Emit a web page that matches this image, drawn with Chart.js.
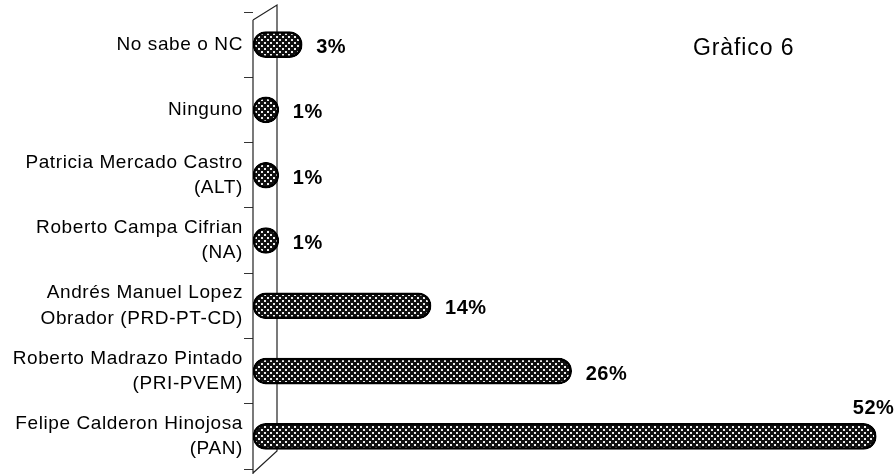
<!DOCTYPE html>
<html>
<head>
<meta charset="utf-8">
<script src="https://cdn.jsdelivr.net/npm/chart.js@4"></script>
<style>
  html, body { margin: 0; padding: 0; background: #fff; }
  #wrap { width: 894px; height: 474px; }
</style>
</head>
<body>
<div id="wrap"><canvas id="grafico6"></canvas></div>
<script>
var categories = [
    ['No sabe o NC'],
    ['Ninguno'],
    ['Patricia Mercado Castro', '(ALT)'],
    ['Roberto Campa Cifrian', '(NA)'],
    ['Andrés Manuel Lopez', 'Obrador (PRD-PT-CD)'],
    ['Roberto Madrazo Pintado', '(PRI-PVEM)'],
    ['Felipe Calderon Hinojosa', '(PAN)']
];
var percentages = [3, 1, 1, 1, 14, 26, 52];
var chartTitle = 'Gràfico 6';

// dotted crosshatch fill like the scanned bars
function makePattern() {
    var c = document.createElement('canvas');
    c.width = 6; c.height = 6;
    var p = c.getContext('2d');
    p.fillStyle = '#111';
    p.fillRect(0, 0, 6, 6);
    p.fillStyle = '#eee';
    p.fillRect(0, 0, 2, 2);
    p.fillRect(3, 3, 2, 2);
    return p.createPattern(c, 'repeat');
}

var wallPlugin = {
    id: 'wall',
    beforeDraw: function (chart) {
        chart.ctx.letterSpacing = '0.6px';
    },
    beforeDatasetsDraw: function (chart) {
        var ctx = chart.ctx;
        var area = chart.chartArea;
        var x0 = area.left;
        ctx.save();
        ctx.strokeStyle = '#222';
        ctx.lineWidth = 1.2;
        ctx.beginPath();
        ctx.moveTo(x0, area.top + 8);
        ctx.lineTo(x0, chart.height);
        ctx.moveTo(x0, area.top + 8);
        ctx.lineTo(x0 + 24, area.top - 7);
        ctx.lineTo(x0 + 24, area.bottom - 18);
        ctx.lineTo(x0, chart.height - 1);
        ctx.stroke();
        ctx.restore();
    }
};

var labelPlugin = {
    id: 'valueLabels',
    afterDatasetsDraw: function (chart) {
        var ctx = chart.ctx;
        var meta = chart.getDatasetMeta(0);
        ctx.save();
        ctx.fillStyle = '#000';
        ctx.letterSpacing = '0.5px';
        ctx.font = 'bold 20px "Liberation Sans", Arial, sans-serif';
        ctx.textBaseline = 'middle';
        meta.data.forEach(function (bar, i) {
            var txt = percentages[i] + '%';
            if (i === percentages.length - 1) {
                ctx.textAlign = 'right';
                ctx.fillText(txt, bar.x + 18, bar.y - 28);
            } else {
                ctx.textAlign = 'left';
                ctx.fillText(txt, bar.x + 14, bar.y + 3);
            }
        });
        ctx.letterSpacing = '0.9px';
        ctx.font = '23px "Liberation Sans", Arial, sans-serif';
        ctx.textAlign = 'left';
        ctx.fillText(chartTitle, 693, 49);
        ctx.restore();
    }
};

var ctx = document.getElementById('grafico6').getContext('2d');

var myChart = new Chart(ctx, {
    type: 'bar',
    data: {
        labels: categories,
        datasets: [
            {
                data: percentages,
                base: -1.2,
                backgroundColor: makePattern(),
                borderColor: '#000',
                borderWidth: 2.5,
                borderSkipped: false,
                borderRadius: 13,
                barThickness: 26
            }
        ]
    },
    options: {
        indexAxis: 'y',
        responsive: true,
        maintainAspectRatio: false,
        animation: false,
        layout: {
            padding: { left: 0, right: 6, top: 12, bottom: 5 }
        },
        plugins: {
            legend: { display: false },
            tooltip: { enabled: false }
        },
        scales: {
            x: {
                min: -1.2,
                max: 53,
                display: false
            },
            y: {
                afterFit: function (scale) {
                    scale.width = 253;
                    scale.paddingTop = 0;
                    scale.paddingBottom = 0;
                },
                ticks: {
                    padding: 1,
                    color: '#000',
                    font: { size: 19, lineHeight: 1.32, family: '"Liberation Sans", Arial, sans-serif' }
                },
                grid: {
                    offset: true,
                    drawOnChartArea: false,
                    drawTicks: true,
                    tickLength: 9,
                    color: '#333'
                },
                border: { display: false }
            }
        }
    },
    plugins: [wallPlugin, labelPlugin]
});
</script>
</body>
</html>
